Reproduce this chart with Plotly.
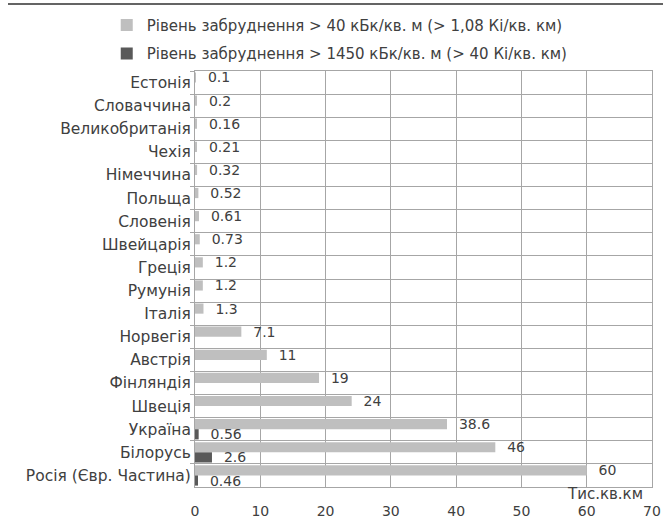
import plotly.graph_objects as go

countries = ["Естонія", "Словаччина", "Великобританія", "Чехія", "Німеччина", "Польща",
             "Словенія", "Швейцарія", "Греція", "Румунія", "Італія", "Норвегія", "Австрія",
             "Фінляндія", "Швеція", "Україна", "Білорусь", "Росія (Євр. Частина)"]
high40 = [0.1, 0.2, 0.16, 0.21, 0.32, 0.52, 0.61, 0.73, 1.2, 1.2, 1.3, 7.1, 11, 19, 24, 38.6, 46, 60]
high1450 = [None] * 15 + [0.56, 2.6, 0.46]
name40 = "Рівень забруднення > 40 кБк/кв. м (> 1,08 Кі/кв. км)"
name1450 = "Рівень забруднення > 1450 кБк/кв. м (> 40 Кі/кв. км)"
x_ticks = [0, 10, 20, 30, 40, 50, 60, 70]

FONT = "DejaVu Sans"
TXT = "#404040"
GRID = "#A6A6A6"

fig = go.Figure()
fig.add_trace(go.Bar(
    y=countries, x=high40, orientation="h", name=name40, legendgroup="a",
    marker=dict(color="#BFBFBF", line=dict(width=0)),
    text=[f"  {v}" for v in high40], textposition="outside", cliponaxis=False,
    constraintext="none",
    textfont=dict(family=FONT, size=14, color=TXT),
))
fig.add_trace(go.Bar(
    y=countries, x=high1450, orientation="h", name=name1450, legendgroup="b",
    marker=dict(color="#595959", line=dict(width=0)),
    text=[f"  {v}" if v is not None else "" for v in high1450], textposition="outside",
    cliponaxis=False, constraintext="none",
    textfont=dict(family=FONT, size=14, color=TXT),
))

fig.update_layout(
    width=663, height=520,
    margin=dict(l=195, r=11, t=71, b=33, autoexpand=False),
    paper_bgcolor="white", plot_bgcolor="white",
    barmode="group", bargap=0.12, bargroupgap=0,
    font=dict(family=FONT, size=14, color=TXT),
    showlegend=True,
    legend=dict(xref="container", yref="container", x=0.161, xanchor="left",
                y=0.983, yanchor="top",
                font=dict(family=FONT, size=15, color=TXT),
                tracegroupgap=6, bgcolor="rgba(0,0,0,0)"),
    xaxis=dict(range=[0, 70], tickvals=x_ticks, ticktext=[str(t) for t in x_ticks],
               showgrid=True, gridcolor=GRID, gridwidth=1, zeroline=False,
               showline=True, linecolor=GRID, mirror=True, ticks="",
               automargin=False, ticklabelstandoff=11,
               tickfont=dict(family=FONT, size=14, color=TXT)),
    yaxis=dict(autorange="reversed", type="category", tickson="boundaries",
               showgrid=True, gridcolor=GRID, gridwidth=1,
               showline=True, linecolor=GRID, mirror=True, automargin=False,
               ticks="outside", ticklen=4, tickcolor=GRID,
               tickfont=dict(family=FONT, size=15.5, color=TXT)),
    shapes=[dict(type="line", xref="paper", yref="paper", x0=-187 / 457, x1=468 / 457,
                 y0=1 + 67 / 416, y1=1 + 67 / 416, line=dict(color="#303030", width=1.5))],
    annotations=[dict(text="Тис.кв.км", xref="paper", yref="paper", x=0.985, y=-0.016,
                      xanchor="right", yanchor="middle", showarrow=False,
                      font=dict(family=FONT, size=15, color=TXT))],
)

fig.write_html("out.html", config={"displayModeBar": False},
               post_script="document.body.style.margin='0';document.body.style.overflow='hidden';")
